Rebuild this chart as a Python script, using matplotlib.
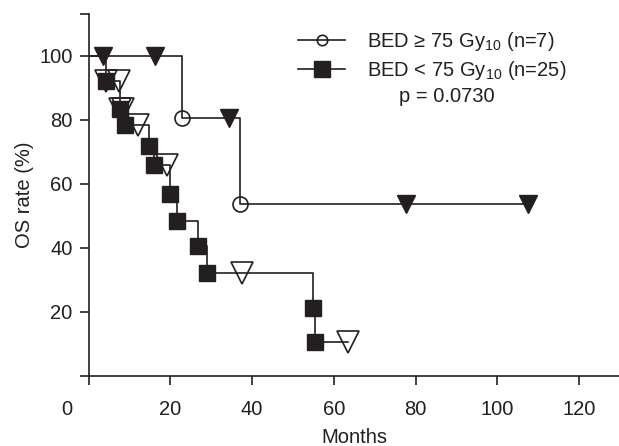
import matplotlib
matplotlib.use('Agg')
import matplotlib.pyplot as plt
from matplotlib.lines import Line2D
from matplotlib.transforms import ScaledTranslation

plt.rcParams['font.family'] = ['Liberation Sans', 'DejaVu Sans']
plt.rcParams['mathtext.fontset'] = 'custom'
plt.rcParams['mathtext.rm'] = 'Liberation Sans'

c = '#231f20'

# BED >= 75 Gy10 (n=7): deaths (open circles) and censored (filled triangles)
hi_event_t = [22.9, 37.0]
hi_event_s = [80.6, 53.6]
hi_cens_t = [3.5, 16.3, 34.4, 77.6, 107.5]
hi_cens_s = [100.0, 100.0, 80.6, 53.6, 53.6]

# BED < 75 Gy10 (n=25): deaths (filled squares) and censored (open triangles)
lo_event_t = [4.2, 7.6, 9.0, 14.9, 15.9, 19.9, 21.7, 26.9, 29.0, 55.0, 55.5]
lo_event_s = [92.0, 83.2, 78.3, 71.7, 65.9, 56.9, 48.4, 40.6, 32.3, 21.2, 10.6]
lo_cens_t = [4.4, 7.4, 7.8, 8.5, 12.0, 19.1, 37.5, 63.4]
lo_cens_s = [92.0, 92.0, 83.2, 83.2, 78.3, 65.9, 32.3, 10.6]

xticks = [0, 20, 40, 60, 80, 100, 120]
yticks = [0, 20, 40, 60, 80, 100, 113]
ytick_labels = ['', '20', '40', '60', '80', '100', '']

fig = plt.figure(figsize=(6.19, 4.46), dpi=100)
ax = fig.add_axes([88.5 / 619, 70 / 446, 531.5 / 619, 362 / 446])

# step curves
hi_t = [0] + hi_event_t + [hi_cens_t[-1]]
hi_s = [100] + hi_event_s + [hi_cens_s[-1]]
lo_t = [0] + lo_event_t + [lo_cens_t[-1]]
lo_s = [100] + lo_event_s + [lo_cens_s[-1]]
ax.plot(hi_t, hi_s, drawstyle='steps-post', color=c, lw=1.2, zorder=2)
ax.plot(lo_t, lo_s, drawstyle='steps-post', color=c, lw=1.2, zorder=2)

ax.plot(hi_event_t, hi_event_s, 'o', ms=10.8, mfc='none', mec=c, mew=1.2, zorder=3)
ax.plot(hi_cens_t, hi_cens_s, 'v', ms=12.5, mfc=c, mec=c, zorder=3)
ax.plot(lo_cens_t, lo_cens_s, 'v', ms=16.5, mfc='none', mec=c, mew=1.2, zorder=3)
ax.plot(lo_event_t, lo_event_s, 's', ms=12.2, mfc=c, mec=c, zorder=4)

ax.set_xlim(0, 130)
ax.set_ylim(0, 113)
ax.set_xticks(xticks)
ax.set_xticklabels([str(v) for v in xticks])
ax.set_yticks(yticks)
ax.set_yticklabels(ytick_labels)
for s in ['top', 'right']:
    ax.spines[s].set_visible(False)
for s in ['left', 'bottom']:
    ax.spines[s].set_linewidth(1.2)
    ax.spines[s].set_color(c)
ax.tick_params(axis='both', direction='out', length=6.5, width=1.2, color=c,
               labelsize=14.5, labelcolor=c)
ax.tick_params(axis='x', pad=11)
ax.tick_params(axis='y', pad=5)
# origin label sits left of the corner
lbl = ax.get_xticklabels()[0]
lbl.set_transform(lbl.get_transform() + ScaledTranslation(-0.215, 0, fig.dpi_scale_trans))
for l in ax.get_xticklabels() + ax.get_yticklabels():
    l.set_clip_on(False)

ax.set_xlabel('Months', fontsize=14.5, color=c)
ax.xaxis.set_label_coords(0.5, -0.145)
ax.set_ylabel('OS rate (%)', fontsize=14.5, color=c)
ax.yaxis.set_label_coords(-0.103, 0.5)

h1 = Line2D([], [], color=c, lw=1.2, marker='o', ms=7.5, mfc='none', mec=c, mew=1.2)
h2 = Line2D([], [], color=c, lw=1.2, marker='s', ms=12, mfc=c, mec=c)
leg = ax.legend([h1, h2],
                ['BED \u2265 75 Gy$_{\\mathrm{10}}$ (n=7)',
                 'BED < 75 Gy$_{\\mathrm{10}}$ (n=25)'],
                loc='upper left', bbox_to_anchor=(298 / 619, 1 - 30 / 446),
                bbox_transform=fig.transFigure, frameon=False, fontsize=14.5,
                handlelength=2.34, handletextpad=1.1, borderpad=0, borderaxespad=0,
                labelspacing=0.3)
for t in leg.get_texts():
    t.set_color(c)
fig.text(447 / 619, 1 - 96 / 446, 'p = 0.0730', ha='center', va='center',
         fontsize=14.5, color=c)

fig.savefig('out.png', dpi=100)
